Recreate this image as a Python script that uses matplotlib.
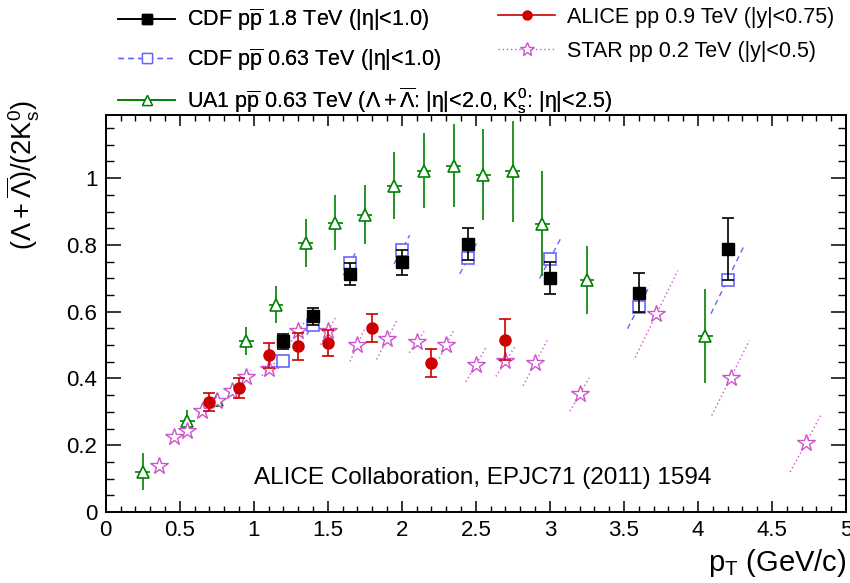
import matplotlib
matplotlib.use('Agg')
import matplotlib.pyplot as plt
from matplotlib.lines import Line2D
import numpy as np

plt.rcParams['font.family'] = ['Liberation Sans', 'DejaVu Sans']
plt.rcParams['mathtext.fontset'] = 'custom'
plt.rcParams['mathtext.rm'] = 'Liberation Sans'
plt.rcParams['mathtext.it'] = 'Liberation Sans'
plt.rcParams['mathtext.bf'] = 'Liberation Sans:bold'

# CDF ppbar 1.8 TeV
cdf18_pt = [1.2, 1.4, 1.65, 2.0, 2.45, 3.0, 3.6, 4.2]
cdf18_ratio = [0.511, 0.586, 0.713, 0.748, 0.804, 0.701, 0.657, 0.788]
cdf18_err = [0.023, 0.025, 0.033, 0.038, 0.048, 0.047, 0.058, 0.092]

# CDF ppbar 0.63 TeV (with systematic extent)
cdf063_pt = [1.2, 1.4, 1.65, 2.0, 2.45, 3.0, 3.6, 4.2]
cdf063_ratio = [0.453, 0.561, 0.746, 0.786, 0.761, 0.758, 0.614, 0.696]
cdf063_dx = [0.037, 0.042, 0.045, 0.053, 0.059, 0.07, 0.076, 0.112]
cdf063_dy = [0.024, 0.03, 0.037, 0.043, 0.048, 0.059, 0.065, 0.102]

# UA1 ppbar 0.63 TeV
ua1_pt = [0.25, 0.55, 0.75, 0.95, 1.15, 1.35, 1.55, 1.75, 1.95, 2.15, 2.35, 2.55,
          2.75, 2.95, 3.25, 4.05]
ua1_ratio = [0.121, 0.272, 0.335, 0.511, 0.621, 0.806, 0.866, 0.891, 0.977, 1.022,
             1.037, 1.01, 1.02, 0.863, 0.694, 0.526]
ua1_err = [0.055, 0.033, 0.02, 0.042, 0.055, 0.072, 0.082, 0.087, 0.1, 0.113, 0.125,
           0.136, 0.15, 0.157, 0.102, 0.141]

# ALICE pp 0.9 TeV
alice_pt = [0.7, 0.9, 1.1, 1.3, 1.5, 1.8, 2.2, 2.7]
alice_ratio = [0.329, 0.371, 0.469, 0.496, 0.507, 0.551, 0.446, 0.516]
alice_err = [0.028, 0.029, 0.038, 0.041, 0.039, 0.043, 0.043, 0.062]

# STAR pp 0.2 TeV (with systematic extent)
star_pt = [0.36, 0.46, 0.55, 0.65, 0.75, 0.85, 0.95, 1.1, 1.3, 1.5, 1.7, 1.9, 2.1,
           2.3, 2.5, 2.7, 2.9, 3.2, 3.72, 4.22, 4.73]
star_ratio = [0.139, 0.224, 0.244, 0.303, 0.331, 0.362, 0.403, 0.428, 0.541, 0.541,
              0.501, 0.517, 0.509, 0.501, 0.441, 0.451, 0.446, 0.352, 0.593, 0.401,
              0.208]
star_dx = [0.01, 0.015, 0.015, 0.02, 0.022, 0.025, 0.03, 0.045, 0.045, 0.05, 0.05,
           0.07, 0.05, 0.047, 0.068, 0.065, 0.081, 0.065, 0.144, 0.127, 0.107]
star_dy = [0.008, 0.01, 0.012, 0.014, 0.016, 0.018, 0.022, 0.02, 0.03, 0.04, 0.05,
           0.06, 0.032, 0.041, 0.051, 0.045, 0.068, 0.05, 0.13, 0.112, 0.088]

c_black = 'black'
c_red = '#cc0000'
c_blue = '#6666ff'
c_green = '#008000'
c_star = '#cc55cc'

fig = plt.figure(figsize=(8.5, 5.83), dpi=100)
ax = fig.add_axes([0.1244, 0.1218, 0.8709, 0.6815])


def diag(ax, x, y, dx, dy, color, ls):
    for xi, yi, a, b in zip(x, y, dx, dy):
        ax.plot([xi - a, xi + a], [yi - b, yi + b], color=color, ls=ls, lw=1.0, zorder=2)


diag(ax, star_pt, star_ratio, star_dx, star_dy, c_star, (0, (1, 2)))
diag(ax, cdf063_pt, cdf063_ratio, cdf063_dx, cdf063_dy, c_blue, (0, (4, 3)))

ax.errorbar(ua1_pt, ua1_ratio, yerr=ua1_err, xerr=0.05, fmt='^', ms=9, mfc='white',
            mec=c_green, mew=1.2, ecolor=c_green, elinewidth=1.2, capsize=0, zorder=3)
ax.plot(star_pt, star_ratio, ls='none', marker='*', ms=13, mfc='white', mec=c_star,
        mew=1.0, zorder=4)
ax.plot(cdf063_pt, cdf063_ratio, ls='none', marker='s', ms=9, mfc='white', mec=c_blue,
        mew=1.2, zorder=4)
ax.errorbar(cdf18_pt, cdf18_ratio, yerr=cdf18_err, fmt='s', ms=8, color=c_black,
            elinewidth=1.2, capsize=4, capthick=1.2, zorder=5)
ax.errorbar(alice_pt, alice_ratio, yerr=alice_err, fmt='o', ms=8, color=c_red,
            elinewidth=1.2, capsize=4, capthick=1.2, zorder=5)

ax.set_xlim(0, 5)
ax.set_ylim(0, 1.19)
ax.set_xticks(np.arange(0, 5.01, 0.5))
ax.set_xticklabels(['0', '0.5', '1', '1.5', '2', '2.5', '3', '3.5', '4', '4.5', '5'])
ax.set_xticks(np.arange(0, 5.01, 0.1), minor=True)
ax.set_yticks(np.arange(0, 1.01, 0.2))
ax.set_yticklabels(['0', '0.2', '0.4', '0.6', '0.8', '1'])
ax.set_yticks(np.arange(0, 1.19, 0.05), minor=True)
ax.tick_params(which='both', direction='in', top=True, right=True, labelsize=16)
ax.tick_params(axis='x', which='major', length=8, width=1.1, pad=6)
ax.tick_params(axis='x', which='minor', length=4, width=1.0)
ax.tick_params(axis='y', which='major', length=11, width=1.1, pad=6)
ax.tick_params(axis='y', which='minor', length=5.5, width=1.0)
for s in ax.spines.values():
    s.set_linewidth(1.4)

ax.set_xlabel(r'p$_{\mathrm{T}}$ (GeV/c)', fontsize=21, loc='right')
fig.text(23 / 850, 1 - 100 / 583,
         r'$(\Lambda+\overline{\Lambda})/(2\mathrm{K}^{0}_{\mathrm{s}})$',
         fontsize=19.5, rotation=90, ha='center', va='top')

ax.text(1.0, 0.085, 'ALICE Collaboration, EPJC71 (2011) 1594', fontsize=17.5,
        va='baseline')

h_cdf18 = Line2D([], [], color=c_black, marker='s', ms=6.5, lw=1.2)
h_cdf063 = Line2D([], [], color=c_blue, marker='s', ms=7, mfc='white', lw=1.0,
                  ls=(0, (4, 3)))
h_ua1 = Line2D([], [], color=c_green, marker='^', ms=7, mfc='white', lw=1.2)
h_alice = Line2D([], [], color=c_red, marker='o', ms=6.5, lw=1.2)
h_star = Line2D([], [], color=c_star, marker='*', ms=10, mfc='white', lw=1.0,
                ls=(0, (1, 2)))

leg_kw = dict(frameon=False, fontsize=15.5, handlelength=2.65, handletextpad=0.55,
              labelspacing=0.6, borderpad=0, borderaxespad=0)
leg1 = fig.legend([h_cdf18, h_cdf063, h_ua1],
                  [r'CDF p$\overline{\mathrm{p}}$ 1.8 TeV (|η|<1.0)',
                   r'CDF p$\overline{\mathrm{p}}$ 0.63 TeV (|η|<1.0)',
                   r'UA1 p$\overline{\mathrm{p}}$ 0.63 TeV ($\Lambda+\overline{\Lambda}$: |η|<2.0, K$^{0}_{\mathrm{s}}$: |η|<2.5)'],
                  loc='upper left', bbox_to_anchor=(118 / 850, 1 - 7 / 583), **leg_kw)
fig.add_artist(leg1)
fig.legend([h_alice, h_star],
           ['ALICE pp 0.9 TeV (|y|<0.75)', 'STAR pp 0.2 TeV (|y|<0.5)'],
           loc='upper left', bbox_to_anchor=(498 / 850, 1 - 7 / 583), **leg_kw)

fig.savefig('out.png', dpi=100)
